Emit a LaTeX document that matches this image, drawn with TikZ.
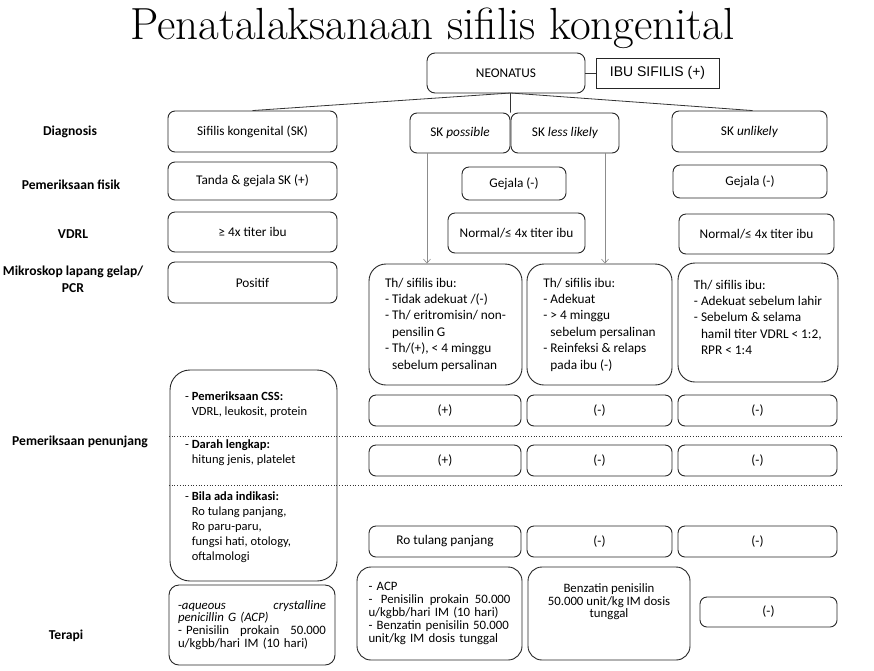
\documentclass[tikz,border=0pt]{standalone}
\usepackage{fontspec}
\usetikzlibrary{arrows.meta}
\newfontfamily\calf{Carlito}
\newfontfamily\arialf{Liberation Sans}
\newcommand\bodyf{\calf\fontsize{13.3}{16}\selectfont}
\tikzset{
  box/.style={draw=black!85, line width=0.9pt, rounded corners=7pt, font=\bodyf, align=center, inner sep=2pt},
  thbox/.style={box, rounded corners=17pt, align=left, font=\calf\fontsize{13.3}{16.4}\selectfont},
  tebox/.style={box, rounded corners=14pt, align=left, font=\calf\fontsize{12.8}{12.9}\selectfont},
  lab/.style={font=\calf\fontsize{13.6}{17}\selectfont\bfseries, align=center},
  ptxt/.style={font=\calf\fontsize{12.5}{15}\selectfont, align=left, inner sep=0pt, anchor=west},
  conn/.style={draw=black!80, line width=0.8pt},
  arr/.style={draw=black!45, line width=0.6pt, -{Straight Barb[length=4pt,width=7pt]}},
  sepline/.style={dotted, line width=0.7pt, draw=black!80}
}
\begin{document}
\begin{tikzpicture}[x=1pt,y=-1pt]
\useasboundingbox (0,0) rectangle (874,670);
\fill[white] (0,0) rectangle (874,670);

% title
\node[font=\fontsize{45}{48}\selectfont, anchor=base, inner sep=0pt] (title) at (432.5,39) {Penatalaksanaan sifilis kongenital};

% top
\node[box, rounded corners=8pt, minimum width=158pt, minimum height=40pt] (neo) at (506,73) {NEONATUS};
\node[draw=black!85, line width=0.9pt, minimum width=123pt, minimum height=30pt, font=\arialf\fontsize{14}{16}\selectfont] (ibu) at (657.5,73) {IBU SIFILIS (+)};
\draw[conn] (neo.east) -- (ibu.west);

% row labels
\node[lab] (l1) at (70,132) {Diagnosis};
\node[lab] (l2) at (71,185) {Pemeriksaan fisik};
\node[lab] (l3) at (73,234) {VDRL};
\node[lab] (l4) at (73,279) {Mikroskop lapang gelap/\\PCR};
\node[lab] (l5) at (80,442) {Pemeriksaan penunjang};
\node[lab] (l6) at (66,636) {Terapi};

% diagnosis row
\node[box, minimum width=169pt, minimum height=41pt] (dx1) at (252.5,131.5) {Sifilis kongenital (SK)};
\node[box, minimum width=100pt, minimum height=40pt] (dx2) at (460,133) {SK \textit{possible}};
\node[box, minimum width=108pt, minimum height=40pt] (dx3) at (565,133) {SK \textit{less likely}};
\node[box, minimum width=155pt, minimum height=41pt] (dx4) at (749.5,131.5) {SK \textit{unlikely}};

\coordinate (hub) at (510.5,93);
\draw[conn] (hub) -- (dx1.north);
\draw[conn] (hub) -- (dx2.north east);
\draw[conn] (hub) -- ([xshift=3pt]dx4.north);

% pemeriksaan fisik
\node[box, minimum width=169pt, minimum height=38pt] (pf1) at (252.5,181) {Tanda \& gejala SK (+)};
\node[box, minimum width=104pt, minimum height=33pt] (pf2) at (514,183.5) {Gejala (-)};
\node[box, minimum width=154pt, minimum height=33pt] (pf3) at (750,181.5) {Gejala (-)};

% VDRL
\node[box, minimum width=169pt, minimum height=40pt] (vd1) at (252.5,232) {≥ 4x titer ibu};
\node[box, minimum width=137pt, minimum height=40pt] (vd2) at (516.5,233) {Normal/≤ 4x titer ibu};
\node[box, minimum width=155pt, minimum height=40pt] (vd3) at (756.5,234) {Normal/≤ 4x titer ibu};

% mikroskop
\node[box, minimum width=169pt, minimum height=41pt] (mk1) at (252.5,282.5) {Positif};

% Th boxes
\node[thbox, minimum width=153pt, minimum height=121pt] (th1) at (445.5,324.5)
 {Th/ sifilis ibu:\\- Tidak adekuat /(-)\\- Th/ eritromisin/ non-\\\phantom{- }pensilin G\\- Th/(+), < 4 minggu\\\phantom{- }sebelum persalinan};
\node[thbox, minimum width=145pt, minimum height=121pt] (th2) at (599.5,324.5)
 {Th/ sifilis ibu:\\- Adekuat\\- > 4 minggu\\\phantom{- }sebelum persalinan\\- Reinfeksi \& relaps\\\phantom{- }pada ibu (-)};
\node[thbox, minimum width=160pt, minimum height=119pt] (th3) at (758,322.5)
 {Th/ sifilis ibu:\\- Adekuat sebelum lahir\\- Sebelum \& selama\\\phantom{- }hamil titer VDRL < 1:2,\\\phantom{- }RPR < 1:4\\[-6pt]\mbox{}};

\draw[arr] ([xshift=-33pt]dx2.south) -- ([xshift=-18.5pt]th1.north);
\draw[arr] ([xshift=40pt]dx3.south) -- ([xshift=5.5pt]th2.north);

% pemeriksaan penunjang
\node[box, rounded corners=20pt, minimum width=167pt, minimum height=211pt] (pen) at (253.5,475.5) {};
\node[ptxt] (pcss) at (185,405) {- \textbf{Pemeriksaan CSS:}\\\phantom{- }VDRL, leukosit, protein};
\node[ptxt] (pdar) at (185,453) {- \textbf{Darah lengkap:}\\\phantom{- }hitung jenis, platelet};
\node[ptxt] (pbil) at (185,527) {- \textbf{Bila ada indikasi:}\\\phantom{- }Ro tulang panjang,\\\phantom{- }Ro paru-paru,\\\phantom{- }fungsi hati, otology,\\\phantom{- }oftalmologi};

\coordinate (s1a) at (169,436); \coordinate (s1b) at (842,436);
\coordinate (s2a) at (169,485); \coordinate (s2b) at (842,485);
\draw[sepline] (s1a) -- (s1b);
\draw[sepline] (s2a) -- (s2b);

\node[box, minimum width=152pt, minimum height=31pt] (css1) at (445,410.5) {(+)};
\node[box, minimum width=145pt, minimum height=31pt] (css2) at (599.5,410.5) {(-)};
\node[box, minimum width=159pt, minimum height=31pt] (css3) at (757.5,410.5) {(-)};

\node[box, minimum width=152pt, minimum height=31pt] (dar1) at (445,460.5) {(+)};
\node[box, minimum width=145pt, minimum height=31pt] (dar2) at (599.5,460.5) {(-)};
\node[box, minimum width=159pt, minimum height=31pt] (dar3) at (757.5,460.5) {(-)};

\node[box, minimum width=152pt, minimum height=31pt] (ro1) at (445,541.5) {Ro tulang panjang};
\node[box, minimum width=145pt, minimum height=31pt] (ro2) at (599.5,541.5) {(-)};
\node[box, minimum width=159pt, minimum height=31pt] (ro3) at (757.5,541.5) {(-)};

% terapi
\node[tebox, rounded corners=10pt, minimum width=166pt, minimum height=80pt, text width=148pt] (te0) at (252,625)
 {-\textit{aqueous}\hfill\textit{crystalline}\\\textit{penicillin G (ACP)}\\- Penisilin\hfill prokain\hfill 50.000\\u/kgbb/hari IM (10 hari)};
\node[tebox, minimum width=165pt, minimum height=93pt, text width=142pt] (te1) at (439.5,613.5)
 {- ACP\\- \ Penisilin\hfill prokain\hfill 50.000\\u/kgbb/hari IM (10 hari)\\- Benzatin penisilin 50.000\\unit/kg IM dosis tunggal};
\node[tebox, align=center, minimum width=162pt, minimum height=93pt] (te2) at (609,613.5)
 {Benzatin penisilin\\50.000 unit/kg IM dosis\\tunggal\\\mbox{}\\\mbox{}};
\node[box, minimum width=137pt, minimum height=30pt] (te3) at (768.5,612) {(-)};

\end{tikzpicture}
\end{document}
